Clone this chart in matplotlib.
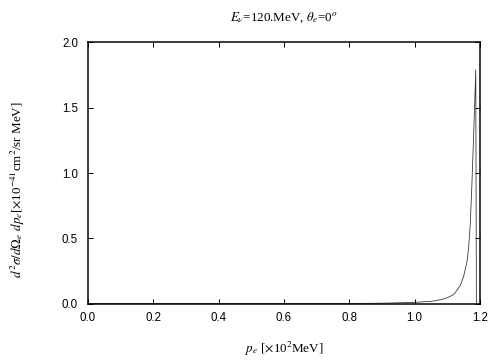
import matplotlib
matplotlib.use("Agg")
import matplotlib.pyplot as plt

# data
p_e = [0.0, 0.5, 0.8, 0.9, 0.95, 1.0, 1.05, 1.08, 1.10, 1.12, 1.14, 1.15,
       1.16, 1.165, 1.17, 1.175, 1.18, 1.184, 1.187, 1.189]
xsec = [0.0, 0.0, 0.001, 0.003, 0.006, 0.01, 0.017, 0.03, 0.045, 0.07, 0.14, 0.21,
        0.32, 0.42, 0.60, 0.90, 1.25, 1.55, 1.79, 0.0]
xticks = [0.0, 0.2, 0.4, 0.6, 0.8, 1.0, 1.2]
yticks = [0.0, 0.5, 1.0, 1.5, 2.0]

plt.rcParams['mathtext.fontset'] = 'stix'
plt.rcParams['font.family'] = ['Liberation Sans', 'DejaVu Sans']

fig = plt.figure(figsize=(7, 5), dpi=72)
ax = fig.add_axes([88/504, 1 - 303.6/360, (480-88)/504, (303.6-42.4)/360])
ax.plot(p_e, xsec, color='#333333', lw=0.8)
ax.set_xlim(0, 1.2)
ax.set_ylim(0, 2.0)
ax.set_xticks(xticks)
ax.set_xticklabels([f"{v:.1f}" for v in xticks])
ax.set_yticks(yticks)
ax.set_yticklabels([f"{v:.1f}" for v in yticks])
ax.tick_params(direction='in', length=5, width=1, top=True, right=True,
               labelsize=11.5, colors='black')
ax.tick_params(axis='x', pad=8)
ax.tick_params(axis='y', pad=10)
for s in ax.spines.values():
    s.set_linewidth(1.5)

serif = {'family': ['Liberation Serif', 'DejaVu Serif'], 'size': 13}
fig.text(284/504, 1 - 18/360, r'$E_\nu$=120.MeV, $\theta_e$=0$^o$',
         ha='center', va='center', fontdict=serif)
fig.text(284/504, 1 - 349/360, r'$p_e$ [$\times$10$^2$MeV]',
         ha='center', va='center', fontdict=serif)
fig.text(18/504, 1 - 190/360,
         r'$d^2\sigma/d\Omega_e\ dp_e$[$\times$10$^{-41}$cm$^2$/sr MeV]',
         ha='center', va='center', rotation=90, fontdict=serif)

fig.savefig('out.png', dpi=72)
